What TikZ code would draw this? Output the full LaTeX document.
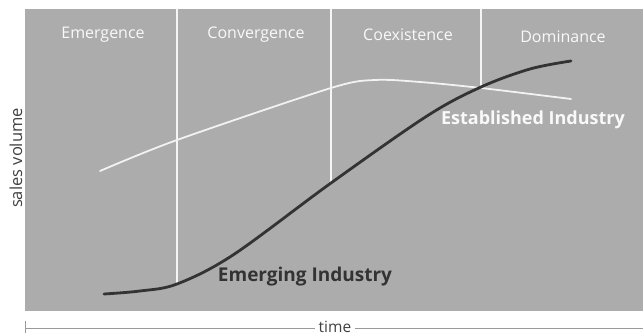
\documentclass[tikz,border=0pt]{standalone}
\usepackage{fontspec}
\setmainfont{Open Sans}
\begin{document}
\begin{tikzpicture}[x=1pt,y=-1pt,
  phase/.style={text=white!95!gray,font=\fontsize{16}{18}\selectfont,inner sep=0pt},
  curvelabel/.style={font=\bfseries\fontsize{18}{21}\selectfont,inner sep=0pt},
  axislabel/.style={font=\fontsize{16.5}{18}\selectfont,text=black!75},
  divider/.style={white!92!gray,line width=1.2pt},
  axis/.style={gray!80,line width=0.8pt}]
\definecolor{panel}{RGB}{172,172,172}
\useasboundingbox (0,0) rectangle (643,336);
\fill[panel] (25,9) rectangle (643,311);
% curve points
\coordinate (e1) at (177,284);
\coordinate (e2) at (331,183);
\coordinate (cross) at (481,87);
% dividers
\draw[divider] (177,9) -- (e1);
\draw[divider] (331,9) -- (e2);
\draw[divider] (481,9) -- (cross);
% established
\draw[white!90!gray,line width=1.8pt,line cap=round] plot[smooth,tension=0.5] coordinates
  {(100,171) (177,140) (331,88) (375,80) (420,82) (481,88) (571,99)};
% emerging
\draw[black!80,line width=2.8pt,line cap=round] plot[smooth,tension=0.55] coordinates
  {(104,294) (140,291) (177,284) (233,255) (331,183) (427,116) (481,87) (530,69) (571,61)};
% phase labels
\node[phase] (p1) at (103,35) {Emergence};
\node[phase] (p2) at (256,35) {Convergence};
\node[phase] (p3) at (408,35) {Coexistence};
\node[phase] (p4) at (563,37) {Dominance};
% curve labels
\node[curvelabel,font=\bfseries\fontsize{19}{21}\selectfont,text=black!80] (lem) at (305,277) {Emerging Industry};
\node[curvelabel,text=white!95!gray] (les) at (533,120) {Established Industry};
% axes
\node[axislabel,rotate=90,inner sep=0pt] (ylab) at (16,158) {sales volume};
\node[axislabel,font=\fontsize{15.5}{18}\selectfont,anchor=base,inner xsep=4pt,inner ysep=0pt] (tlab) at (335,332.5) {time};
\coordinate (t0) at (25,328);
\coordinate (t1) at (643,328);
\draw[axis] (t0) -- (t0 -| tlab.west);
\draw[axis] (t1 -| tlab.east) -- (t1);
\draw[axis] (25,321) -- (25,333);
\end{tikzpicture}
\end{document}
